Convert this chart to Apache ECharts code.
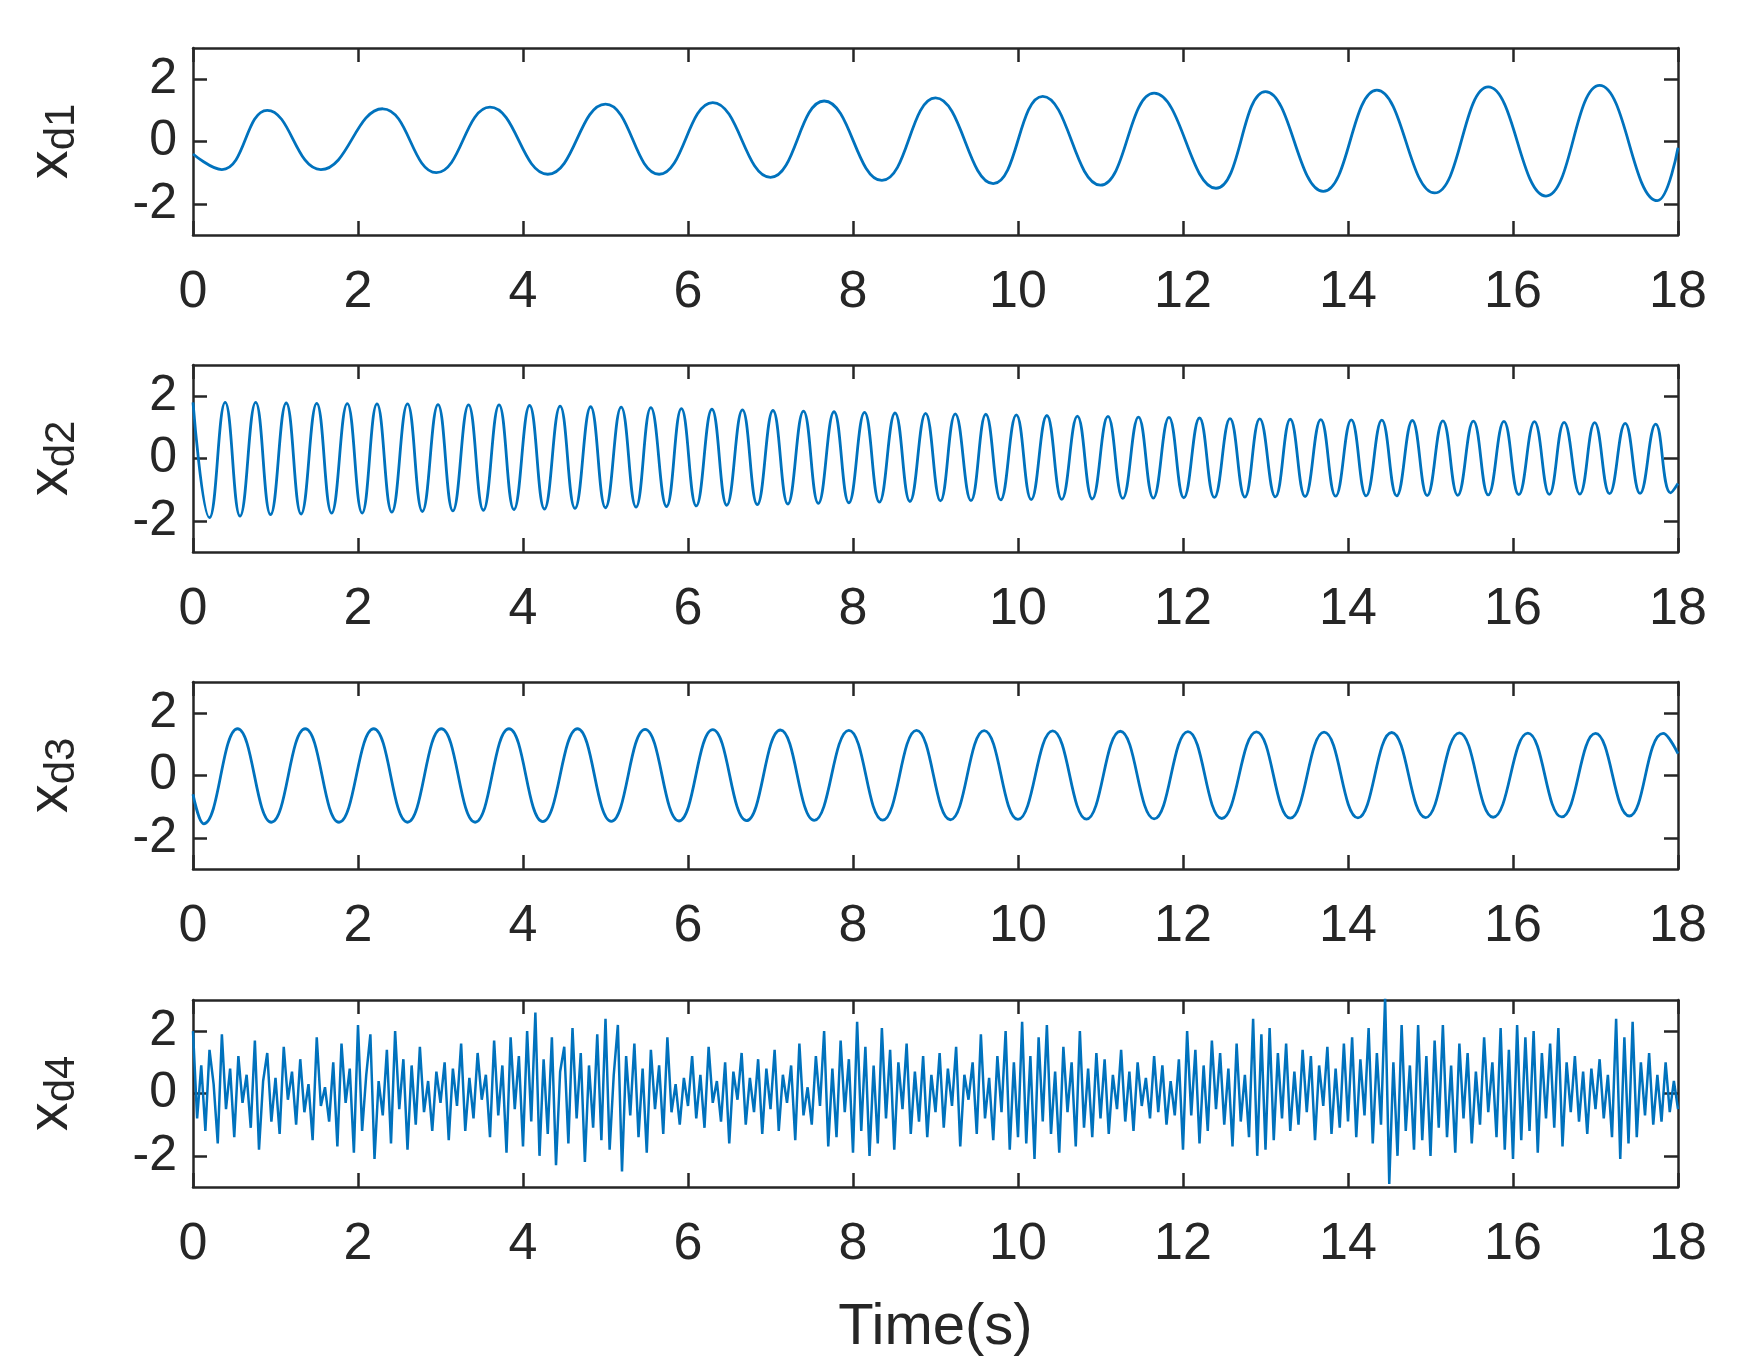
<!DOCTYPE html>
<html><head><meta charset="utf-8">
<script src="https://cdn.jsdelivr.net/npm/echarts@6/dist/echarts.min.js"></script>
<style>html,body{margin:0;padding:0;background:#fff}#c{width:1742px;height:1368px}</style>
</head><body><div id="c"></div>
<script>
const xTicks = [0,2,4,6,8,10,12,14,16,18];
const yTicks = [-2,0,2];
const names = ['d1','d2','d3','d4'];
// xd1 extrema (time, value)
const xd1T = [0,0.35,0.9,1.55,2.3,2.95,3.6,4.3,5.0,5.65,6.3,7.0,7.65,8.35,9.0,9.7,10.3,11.0,11.65,12.4,13.0,13.7,14.35,15.05,15.7,16.4,17.05,17.75,18];
const xd1V = [-0.4,-0.9,1.0,-0.9,1.05,-1.0,1.1,-1.05,1.2,-1.05,1.25,-1.15,1.3,-1.25,1.4,-1.35,1.45,-1.4,1.55,-1.5,1.6,-1.6,1.65,-1.65,1.75,-1.75,1.8,-1.9,-0.2];
// xd2 extrema
const xd2T = [0,0.20,0.39,0.57,0.76,0.94,1.13,1.31,1.50,1.68,1.87,2.05,2.23,2.41,2.60,2.78,2.97,3.15,3.34,3.52,3.71,3.89,4.08,4.26,4.45,4.63,4.82,5.00,5.19,5.37,5.55,5.74,5.92,6.10,6.29,6.47,6.66,6.84,7.03,7.21,7.40,7.58,7.77,7.95,8.14,8.32,8.51,8.69,8.88,9.06,9.24,9.43,9.61,9.79,9.98,10.16,10.35,10.53,10.72,10.90,11.09,11.27,11.46,11.64,11.83,12.01,12.20,12.38,12.57,12.75,12.93,13.12,13.30,13.48,13.67,13.85,14.04,14.22,14.41,14.59,14.78,14.96,15.15,15.33,15.52,15.70,15.89,16.07,16.26,16.44,16.62,16.81,16.99,17.17,17.36,17.54,17.73,17.91,18];
const xd2V = [1.8,-1.9,1.8,-1.85,1.8,-1.8,1.78,-1.78,1.77,-1.75,1.76,-1.75,1.75,-1.72,1.75,-1.7,1.73,-1.68,1.72,-1.66,1.72,-1.64,1.7,-1.62,1.68,-1.6,1.66,-1.58,1.65,-1.56,1.63,-1.54,1.6,-1.52,1.58,-1.5,1.56,-1.48,1.54,-1.46,1.52,-1.44,1.5,-1.42,1.48,-1.4,1.46,-1.38,1.45,-1.36,1.43,-1.35,1.42,-1.33,1.4,-1.32,1.38,-1.31,1.36,-1.3,1.35,-1.28,1.33,-1.27,1.32,-1.26,1.3,-1.25,1.28,-1.24,1.27,-1.23,1.26,-1.22,1.25,-1.21,1.24,-1.2,1.23,-1.2,1.22,-1.19,1.21,-1.18,1.2,-1.17,1.19,-1.16,1.18,-1.15,1.16,-1.14,1.15,-1.13,1.13,-1.12,1.1,-1.1,-0.8];
// xd3 extrema
const xd3T = [0,0.13,0.54,0.95,1.36,1.77,2.19,2.60,3.01,3.42,3.83,4.24,4.66,5.07,5.48,5.89,6.30,6.71,7.12,7.53,7.95,8.36,8.77,9.18,9.59,10.00,10.42,10.83,11.24,11.65,12.06,12.47,12.89,13.30,13.71,14.12,14.53,14.94,15.35,15.76,16.18,16.59,17.00,17.41,17.82,18];
const xd3V = [-0.6,-1.55,1.5,-1.5,1.5,-1.5,1.5,-1.5,1.5,-1.5,1.5,-1.48,1.5,-1.47,1.48,-1.46,1.47,-1.45,1.46,-1.44,1.45,-1.43,1.45,-1.42,1.44,-1.41,1.43,-1.4,1.42,-1.39,1.41,-1.38,1.4,-1.37,1.39,-1.36,1.38,-1.35,1.37,-1.34,1.36,-1.33,1.35,-1.3,1.35,0.7];
// xd4 samples every 0.05 s
const xd4Step = 0.05;
const xd4V = [2.0,-0.8,0.9,-1.2,1.4,0.3,-1.6,1.9,-0.5,0.8,-1.4,1.2,-0.3,0.6,-1.1,1.7,-1.8,0.4,1.3,-0.9,
0.5,-1.3,1.5,-0.2,0.7,-1.0,1.1,-0.6,0.3,-1.5,1.8,-0.4,0.2,-0.9,1.0,-1.7,1.6,-0.3,0.8,-1.9,
2.2,-1.2,0.6,1.9,-2.1,0.4,-0.7,1.4,-1.6,2.0,-0.5,1.1,-1.8,0.9,-1.0,1.5,-0.6,0.4,-1.2,0.7,
-0.3,1.0,-1.5,0.8,-0.4,1.6,-1.2,0.5,-0.8,1.3,-0.2,0.6,-1.4,1.7,-0.7,0.9,-1.9,1.8,-0.5,1.2,
-1.7,2.0,-0.9,2.6,-2.0,1.1,-1.3,1.8,-2.3,0.7,1.5,-1.6,2.1,-0.8,1.3,-2.2,0.9,-1.1,1.9,-1.5,
2.4,-1.8,0.6,2.2,-2.5,1.2,-0.7,1.6,-1.4,0.8,-1.9,1.4,-0.5,0.9,-1.3,1.8,-0.6,0.3,-1.0,0.5,
-0.4,1.2,-0.8,0.6,-1.1,1.5,-0.3,0.4,-0.9,1.0,-1.6,0.7,-0.2,1.3,-1.0,0.5,-0.6,1.1,-1.3,0.8,
-0.5,1.4,-1.2,0.6,-0.3,0.9,-1.5,1.6,-0.7,0.2,-1.0,1.2,-0.4,2.0,-1.7,0.8,-1.4,1.7,-0.6,1.1,
-1.9,2.3,-1.2,1.5,-2.0,0.9,-1.6,2.1,-0.8,1.4,-1.8,1.0,-0.5,1.6,-1.3,0.7,-0.9,1.2,-1.4,0.6,
-0.6,1.3,-1.1,0.8,-0.4,1.5,-1.7,0.6,-0.2,1.0,-1.3,1.9,-0.8,0.5,-1.5,1.2,-0.6,2.0,-1.8,1.0,
-1.4,2.3,-1.6,1.2,-2.1,1.8,-0.9,2.2,-1.3,0.7,-1.9,1.5,-0.6,1.0,-1.7,2.0,-1.1,0.8,-1.4,1.3,
-0.8,1.1,-1.3,0.6,-0.5,1.4,-0.9,0.7,-1.2,1.0,-0.4,0.5,-0.8,1.2,-0.6,0.9,-1.0,0.4,-0.7,1.1,
-1.8,2.0,-0.7,1.4,-1.6,0.9,-1.2,1.7,-0.5,1.3,-1.0,0.8,-1.7,1.6,-0.9,0.6,-1.4,2.4,-2.0,1.9,
-1.8,2.1,-1.5,1.3,-0.8,1.6,-1.2,0.7,-1.0,1.4,-0.6,1.2,-1.5,0.9,-0.4,1.5,-1.3,0.8,-1.1,1.6,
-0.9,1.8,-1.4,1.1,-0.7,2.1,-1.6,1.3,-1.0,3.1,-2.9,1.0,-2.0,2.2,-1.2,0.9,-1.8,2.2,-1.5,1.2,
-2.0,1.7,-1.1,2.2,-1.4,0.9,-1.9,1.6,-0.8,1.3,-1.6,0.7,-1.0,1.8,-0.6,1.0,-1.4,2.1,-1.8,1.4,
-2.1,2.2,-1.5,1.8,-1.2,2.0,-1.9,1.3,-0.8,1.6,-1.1,2.1,-1.7,1.0,-0.6,1.2,-0.9,0.7,-1.3,0.8,
-0.5,1.1,-0.8,0.6,-1.4,2.4,-2.1,1.8,-1.6,2.3,-1.4,1.0,-0.7,1.3,-1.0,0.6,-0.9,1.0,-0.6,0.4,
-0.5];

const zip = (t,v)=>t.map((x,i)=>[x,v[i]]);
const seriesData = [zip(xd1T,xd1V), zip(xd2T,xd2V), zip(xd3T,xd3V), xd4V.map((v,i)=>[+(i*xd4Step).toFixed(2),v])];
const smoothFlags = [0.45,0.45,0.45,false];

const tops=[48,365,682,1000], H=187, L=193, W=1485;
const F='"Liberation Sans", Arial, sans-serif';
const axColor='#262626';
const grid=[],xAxis=[],yAxis=[],series=[];
tops.forEach((t,i)=>{
  grid.push({left:L,top:t,width:W,height:H});
  const lineStyle={color:axColor,width:2.5};
  xAxis.push({type:'value',gridIndex:i,min:0,max:18,interval:2,
    axisLine:{show:true,onZero:false,lineStyle},
    axisTick:{show:true,inside:true,length:14,lineStyle},
    axisLabel:{show:true,fontFamily:F,fontSize:52,color:axColor,margin:32},
    splitLine:{show:false},
    name:i===3?'Time(s)':'',nameLocation:'middle',nameGap:112,
    nameTextStyle:{fontFamily:F,fontSize:58,color:axColor}});
  xAxis.push({type:'value',gridIndex:i,min:0,max:18,interval:2,position:'top',
    axisLine:{show:true,onZero:false,lineStyle},
    axisTick:{show:true,inside:true,length:14,lineStyle},
    axisLabel:{show:false},splitLine:{show:false}});
  yAxis.push({type:'value',gridIndex:i,min:-3,max:3,
    axisLine:{show:true,onZero:false,lineStyle},
    axisTick:{show:true,inside:true,length:14,lineStyle,customValues:yTicks},
    axisLabel:{show:true,fontFamily:F,fontSize:50,color:axColor,margin:16,customValues:yTicks},
    splitLine:{show:false},
    name:'{x|x}{s|'+names[i]+'}',nameLocation:'middle',nameGap:110,nameRotate:90,
    nameTextStyle:{fontFamily:F,color:axColor,rich:{x:{fontSize:58,fontFamily:F,color:axColor},s:{fontSize:42,fontFamily:F,color:axColor,verticalAlign:'bottom',padding:[22,0,0,0]}}}});
  yAxis.push({type:'value',gridIndex:i,min:-3,max:3,position:'right',
    axisLine:{show:true,onZero:false,lineStyle},
    axisTick:{show:true,inside:true,length:14,lineStyle,customValues:yTicks},
    axisLabel:{show:false},splitLine:{show:false}});
  series.push({type:'line',xAxisIndex:2*i,yAxisIndex:2*i,data:seriesData[i],
    smooth:smoothFlags[i],showSymbol:false,symbol:'none',
    lineStyle:{color:'#0072BD',width:i===3?2.5:2.8},animation:false,z:1});
});
const chart=echarts.init(document.getElementById('c'));
chart.setOption({animation:false,backgroundColor:'#fff',grid,xAxis,yAxis,series});
</script></body></html>
